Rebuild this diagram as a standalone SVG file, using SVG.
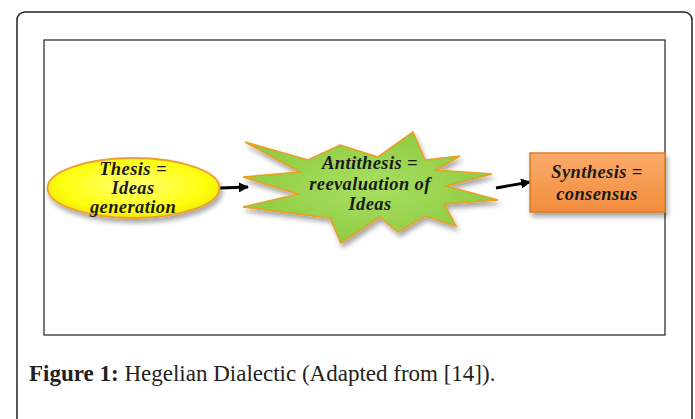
<svg xmlns="http://www.w3.org/2000/svg" width="695" height="419" viewBox="0 0 695 419">
<style>
.lbl{font-family:"Liberation Serif","DejaVu Serif",serif;font-weight:bold;font-style:italic;font-size:18.5px;letter-spacing:0.4px;fill:#1a1a1a;text-anchor:middle}
.cap{font-family:"Liberation Serif","DejaVu Serif",serif;font-size:23px;fill:#231f20}
.conn{stroke:#000;stroke-width:2.8;fill:none}
</style>
<defs>
<radialGradient id="gY" cx="0.5" cy="0.45" r="0.6">
<stop offset="0" stop-color="#ffff70"/>
<stop offset="0.7" stop-color="#ffff10"/>
<stop offset="1" stop-color="#e8e000"/>
</radialGradient>
<radialGradient id="gG" cx="0.5" cy="0.5" r="0.6">
<stop offset="0" stop-color="#a8e060"/>
<stop offset="1" stop-color="#8cc840"/>
</radialGradient>
<linearGradient id="gO" x1="0" y1="0" x2="0" y2="1">
<stop offset="0" stop-color="#fbab6a"/>
<stop offset="1" stop-color="#f28c3c"/>
</linearGradient>
<filter id="sh" x="-20%" y="-20%" width="140%" height="150%">
<feGaussianBlur in="SourceAlpha" stdDeviation="2.5"/>
<feOffset dx="2" dy="4" result="b"/>
<feComponentTransfer><feFuncA type="linear" slope="0.35"/></feComponentTransfer>
<feMerge><feMergeNode/><feMergeNode in="SourceGraphic"/></feMerge>
</filter>
<marker id="ah" viewBox="0 0 10 10" refX="9" refY="5" markerWidth="3.6" markerHeight="3.6" orient="auto" markerUnits="strokeWidth">
<path d="M0,0 L10,5 L0,10 z" fill="#000"/>
</marker>
</defs>
<rect x="0" y="0" width="695" height="419" fill="#fff"/>
<rect id="frame" x="17" y="12" width="675" height="420" rx="8" fill="none" stroke="#222" stroke-width="1.5"/>
<rect id="panel" x="44" y="40" width="621" height="295" fill="none" stroke="#333" stroke-width="1.3"/>

<g id="connectors">
<line class="conn" x1="220" y1="188" x2="248" y2="187" marker-end="url(#ah)"/>
<line class="conn" x1="496" y1="188" x2="530" y2="182" marker-end="url(#ah)"/>
</g>

<g id="thesis">
<ellipse cx="133.5" cy="188" rx="86" ry="30" fill="url(#gY)" stroke="#eca030" stroke-width="1.8" filter="url(#sh)"/>
<text class="lbl" x="133" y="175">Thesis =</text>
<text class="lbl" x="133" y="194">Ideas</text>
<text class="lbl" x="133" y="213">generation</text>
</g>

<g id="antithesis">
<polygon points="245,142 308,160 340,145 378,157 413,132 425,160 460,156 436,170 492,174 446,186 498,200 444,204 456,226 425,216 398,232 380,217 341,243 330,218 243,207 298,194 243,177 300,172" fill="url(#gG)" stroke="#e8a020" stroke-width="1.6" stroke-linejoin="miter" filter="url(#sh)"/>
<text class="lbl" x="370" y="169">Antithesis =</text>
<text class="lbl" x="370" y="190">reevaluation of</text>
<text class="lbl" x="370" y="210">Ideas</text>
</g>

<g id="synthesis">
<rect x="530" y="153" width="135" height="59" fill="url(#gO)" stroke="#d87f20" stroke-width="1.5" filter="url(#sh)"/>
<text class="lbl" x="597" y="178">Synthesis =</text>
<text class="lbl" x="597" y="200">consensus</text>
</g>

<text class="cap" x="29" y="381"><tspan font-weight="bold">Figure 1:</tspan> Hegelian Dialectic (Adapted from [14]).</text>
</svg>
